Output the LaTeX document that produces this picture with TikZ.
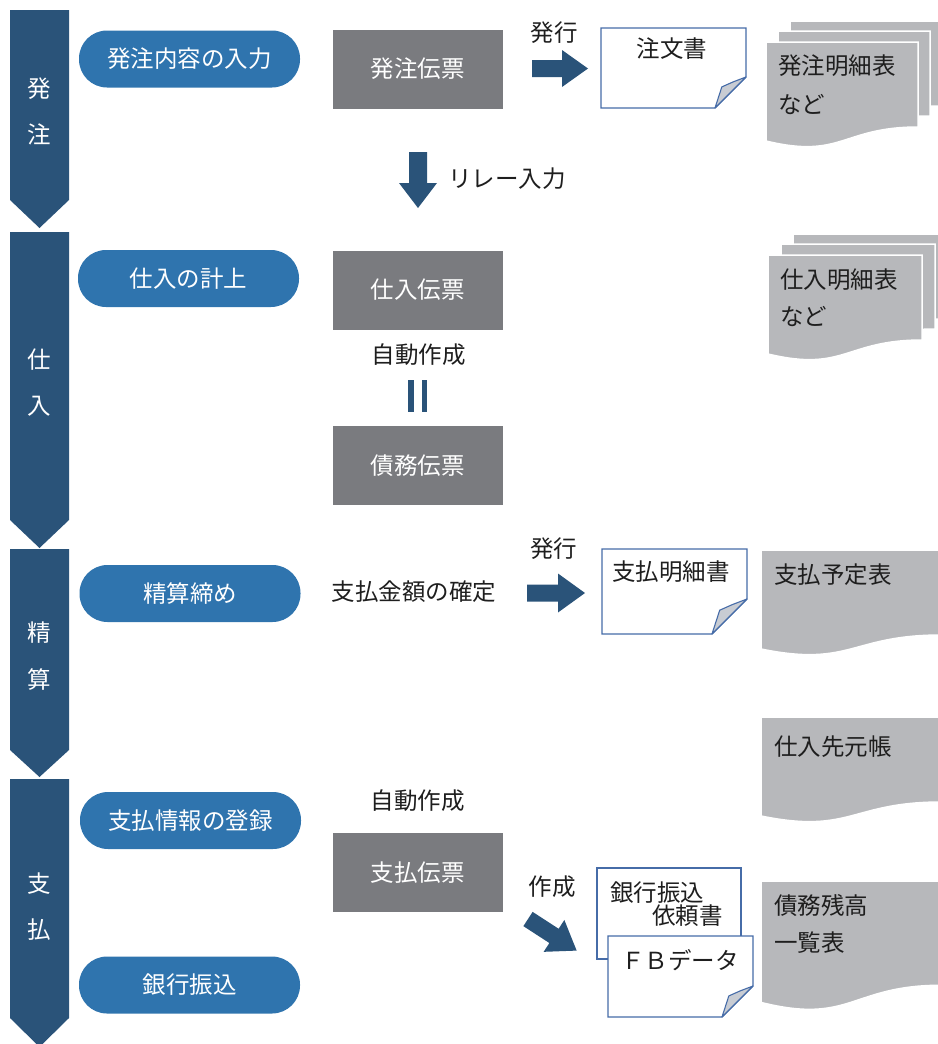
\documentclass[tikz,border=0pt]{standalone}
\usepackage{fontspec}
\setmainfont{Noto Sans CJK JP}
\definecolor{chev}{RGB}{42,83,121}
\definecolor{pillc}{RGB}{47,116,174}
\definecolor{gboxc}{RGB}{122,123,127}
\definecolor{gdoc}{RGB}{183,184,187}
\definecolor{docb}{RGB}{70,108,168}
\definecolor{foldc}{RGB}{200,204,211}
\definecolor{txt}{RGB}{30,30,30}
\newcommand\chevshape[3]{% top, body bottom, tip
  \path[fill=chev] (10,#1) -- (69,#1) -- (69,#2) -- (39.5,#3) -- (10,#2) -- cycle;}
\newcommand\wavedoc[4]{% x y w h
  \path[fill=gdoc, draw=white, line width=1.5] (#1,#2) -- ({#1+#3},#2) -- ({#1+#3},{#2+0.802*#4})
   .. controls ({#1+0.5*#3},{#2+0.802*#4}) and ({#1+0.5*#3},{#2+1.1075*#4}) .. (#1,{#2+0.934*#4}) -- cycle;}
\newcommand\folddoc[5]{% x y w h f
  \path[fill=white, draw=docb, line width=1.1] (#1,#2) -- ({#1+#3},#2) -- ({#1+#3},{#2+#4-#5}) -- ({#1+#3-#5},{#2+#4}) -- (#1,{#2+#4}) -- cycle;
  \path[fill=foldc, draw=docb, line width=1.1, line join=round] ({#1+#3-#5},{#2+#4}) -- ({#1+#3-#5+0.22*#5},{#2+#4-0.68*#5}) -- ({#1+#3-#5+0.58*#5},{#2+#4-0.84*#5}) -- ({#1+#3},{#2+#4-#5}) -- cycle;}
\newcommand\blockarrow[7]{% x y angle length shafthalf headhalf headstart
  \begin{scope}[shift={(#1,#2)}, rotate=#3]
  \path[fill=chev] (0,-#5) -- (#7,-#5) -- (#7,-#6) -- (#4,0) -- (#7,#6) -- (#7,#5) -- (0,#5) -- cycle;
  \end{scope}}
\tikzset{
  jp/.style={font=\fontsize{23.5}{28}\selectfont, inner sep=0pt},
  lbl/.style={jp, text=txt},
  wlbl/.style={jp, text=white},
  pill/.style={wlbl, fill=pillc, rounded corners=28pt, minimum width=221pt, minimum height=57pt},
  gbox/.style={wlbl, fill=gboxc, minimum width=170pt, minimum height=79pt},
}
\begin{document}
\begin{tikzpicture}[x=1pt,y=-1pt]
\useasboundingbox (0,0) rectangle (937,1044);
% chevrons
\chevshape{10}{200}{228}
\chevshape{232}{520}{548}
\chevshape{549}{750}{777}
\chevshape{779}{1018}{1047}
\node[wlbl] (c1a) at (39.5,89) {発};
\node[wlbl] (c1b) at (39.5,134) {注};
\node[wlbl] (c2a) at (39.5,360) {仕};
\node[wlbl] (c2b) at (39.5,406) {入};
\node[wlbl] (c3a) at (39.5,633) {精};
\node[wlbl] (c3b) at (39.5,680) {算};
\node[wlbl] (c4a) at (39.5,884) {支};
\node[wlbl] (c4b) at (39.5,930) {払};
% pills
\node[pill] (p1) at (189.5,59) {発注内容の入力};
\node[pill] (p2) at (188.5,278.5) {仕入の計上};
\node[pill] (p3) at (190,593.5) {精算締め};
\node[pill] (p4) at (190.5,820.5) {支払情報の登録};
\node[pill] (p5) at (189.5,985) {銀行振込};
% gray boxes
\node[gbox] (b1) at (417.5,69) {発注伝票};
\node[gbox] (b2) at (417.5,290) {仕入伝票};
\node[gbox] (b3) at (417.5,465.5) {債務伝票};
\node[gbox] (b4) at (417.5,872.5) {支払伝票};
% labels
\node[lbl] (t1) at (554,33) {発行};
\node[lbl] (t2) at (507,178.5) {リレー入力};
\node[lbl] (t3) at (418.5,355) {自動作成};
\node[lbl] (t4) at (414,592) {支払金額の確定};
\node[lbl] (t5) at (553.5,549) {発行};
\node[lbl] (t6) at (417.5,801) {自動作成};
\node[lbl] (t7) at (552,887) {作成};
% block arrows
\blockarrow{532}{68.5}{0}{56}{8.5}{18.5}{30}
\blockarrow{418}{152}{-90}{56}{9}{19}{31}
\blockarrow{527}{593}{0}{58}{8.5}{19.5}{31}
\blockarrow{528}{919}{-33}{58}{8.5}{19}{31}
% equals bars
\path[fill=chev] (408,380) rectangle (413.5,412);
\path[fill=chev] (421.5,380) rectangle (427,412);
% folded docs
\folddoc{601}{28}{145}{80}{31}
\node[lbl] (d1) at (672,49) {注文書};
\folddoc{602}{549}{145}{85}{35}
\node[lbl] (d2) at (671,572) {支払明細書};
\path[fill=white, draw=docb, line width=1.1] (597,868) rectangle (741,959);
\node[lbl, anchor=west] (d3a) at (610,893) {銀行振込};
\node[lbl, anchor=east] (d3b) at (723,916) {依頼書};
\folddoc{608}{936}{145}{81}{31}
\node[lbl] (d4) at (680,960) {ＦＢデータ};
% gray stacked docs
\wavedoc{790}{21}{152}{106}
\wavedoc{778}{31}{152}{106}
\wavedoc{766}{42}{152}{106}
\node[lbl, anchor=west] (g1a) at (778,66) {発注明細表};
\node[lbl, anchor=west] (g1b) at (778,105) {など};
\wavedoc{793}{234}{154}{106}
\wavedoc{781}{244}{154}{106}
\wavedoc{768}{255}{154}{106}
\node[lbl, anchor=west] (g2a) at (780,280) {仕入明細表};
\node[lbl, anchor=west] (g2b) at (780,317) {など};
\wavedoc{761}{550}{180}{106}
\node[lbl, anchor=west] (g3) at (774,575) {支払予定表};
\wavedoc{761}{717}{180}{106}
\node[lbl, anchor=west] (g4) at (774,747) {仕入先元帳};
\wavedoc{761}{881}{180}{130}
\node[lbl, anchor=west] (g5a) at (774,905) {債務残高};
\node[lbl, anchor=west] (g5b) at (774,943) {一覧表};
\end{tikzpicture}
\end{document}
